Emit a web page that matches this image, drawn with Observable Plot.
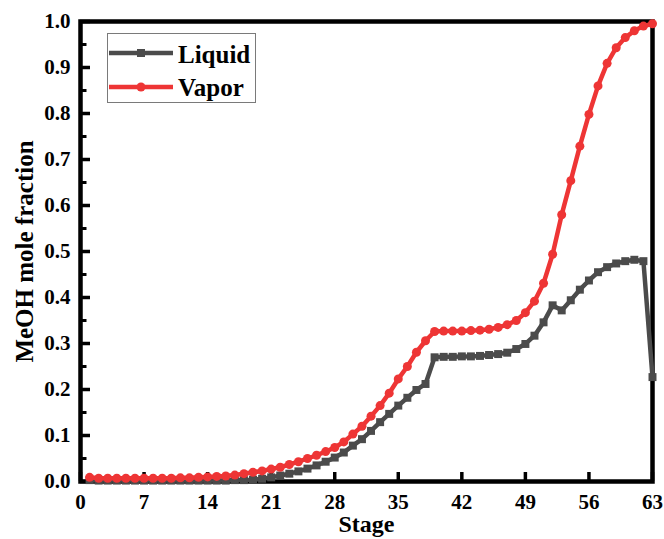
<!DOCTYPE html>
<html><head><meta charset="utf-8">
<script src="https://cdn.jsdelivr.net/npm/d3@7"></script>
<script src="https://cdn.jsdelivr.net/npm/@observablehq/plot@0.6"></script>
<style>
body{margin:0;background:#fff;}
#wrap{position:relative;width:664px;height:539px;overflow:hidden;}
#legend{position:absolute;left:107px;top:33px;width:149px;height:70px;border:1px solid #7a7a7a;background:#fff;box-sizing:border-box;}
#legend text{font-family:"Liberation Serif",serif;font-weight:bold;font-size:25px;fill:#000;}
</style></head><body><div id="wrap"></div>
<script>
const stages = d3.range(1, 64);
const liquid = [0.003,0.002,0.002,0.002,0.002,0.002,0.002,0.002,0.002,0.002,
  0.002,0.002,0.002,0.002,0.002,0.002,0.003,0.003,0.004,0.006,
  0.009,0.013,0.017,0.022,0.028,0.035,0.043,0.052,0.063,0.078,
  0.092,0.110,0.129,0.147,0.165,0.182,0.199,0.212,0.270,0.271,
  0.271,0.272,0.272,0.273,0.275,0.277,0.280,0.288,0.299,0.317,
  0.346,0.383,0.372,0.394,0.417,0.437,0.455,0.466,0.474,0.479,
  0.482,0.479,0.227];
const vapor = [0.009,0.007,0.007,0.007,0.007,0.007,0.007,0.007,0.007,0.007,
  0.008,0.008,0.009,0.010,0.011,0.012,0.014,0.017,0.020,0.023,
  0.027,0.031,0.037,0.043,0.050,0.057,0.065,0.074,0.086,0.103,
  0.120,0.142,0.165,0.192,0.223,0.250,0.281,0.306,0.326,0.327,
  0.327,0.327,0.328,0.329,0.331,0.335,0.341,0.350,0.367,0.392,
  0.431,0.494,0.580,0.654,0.729,0.798,0.860,0.909,0.943,0.965,
  0.980,0.990,0.995];
const xTicks = [0, 7, 14, 21, 28, 35, 42, 49, 56, 63];
const yTicks = [0, 0.1, 0.2, 0.3, 0.4, 0.5, 0.6, 0.7, 0.8, 0.9, 1.0];
const yMinorTicks = [0.05, 0.15, 0.25, 0.35, 0.45, 0.55, 0.65, 0.75, 0.85, 0.95];
const seriesNames = ["Liquid", "Vapor"];
const seriesColors = ["#4b4b4b", "#ee3535"];
const xTitle = "Stage";
const yTitle = "MeOH mole fraction";

const liqData = stages.map((s, i) => ({stage: s, value: liquid[i]}));
const vapData = stages.map((s, i) => ({stage: s, value: vapor[i]}));

const W = 664, H = 539, ML = 80, MR = 12, MT = 21, MB = 58;
const FW = W - ML - MR, FH = H - MT - MB;

const chart = Plot.plot({
  width: W, height: H,
  marginLeft: ML, marginRight: MR, marginTop: MT, marginBottom: MB,
  x: {domain: [0, 63]},
  y: {domain: [0, 1]},
  style: {fontFamily: "'Liberation Serif', serif", fontWeight: "bold", fontSize: "21px", color: "#000", background: "#fff"},
  marks: [
    Plot.tickY(yTicks, {y: d => d, stroke: "#000", strokeWidth: 3.5, insetRight: FW - 10}),
    Plot.tickY(yMinorTicks, {y: d => d, stroke: "#000", strokeWidth: 3, insetRight: FW - 6.5}),
    Plot.tickX(xTicks, {x: d => d, stroke: "#000", strokeWidth: 3.5, insetTop: FH - 9}),
    Plot.frame({stroke: "#000", strokeWidth: 4.5}),
    Plot.axisY(yTicks, {tickSize: 0, tickPadding: 10, tickFormat: d3.format(".1f"), fontSize: 21, fontWeight: "bold", label: null}),
    Plot.axisX(xTicks, {tickSize: 0, tickPadding: 13, fontSize: 21, fontWeight: "bold", label: null}),
    Plot.line(liqData, {x: "stage", y: "value", stroke: seriesColors[0], strokeWidth: 4.5}),
    Plot.dot(liqData, {x: "stage", y: "value", symbol: "square", r: 4.5, fill: seriesColors[0], stroke: null}),
    Plot.line(vapData, {x: "stage", y: "value", stroke: seriesColors[1], strokeWidth: 4.5}),
    Plot.dot(vapData, {x: "stage", y: "value", symbol: "circle", r: 4.5, fill: seriesColors[1], stroke: null}),
    Plot.text([xTitle], {frameAnchor: "bottom", dy: 33, lineAnchor: "top", textAnchor: "middle", fontSize: 24, fontWeight: "bold", fill: "#000"}),
    Plot.text([yTitle], {frameAnchor: "left", dx: -65, rotate: -90, lineAnchor: "top", textAnchor: "middle", fontSize: 25, fontWeight: "bold", fill: "#000"})
  ]
});
const wrap = document.getElementById("wrap");
wrap.appendChild(chart);

// legend
const legend = document.createElement("div");
legend.id = "legend";
const ns = "http://www.w3.org/2000/svg";
const svg = document.createElementNS(ns, "svg");
svg.setAttribute("width", 147); svg.setAttribute("height", 68);
const rows = [{y: 19, ty: 29}, {y: 53, ty: 62}];
seriesNames.forEach((name, i) => {
  const r = rows[i];
  const ln = document.createElementNS(ns, "line");
  ln.setAttribute("x1", 1); ln.setAttribute("x2", 65);
  ln.setAttribute("y1", r.y); ln.setAttribute("y2", r.y);
  ln.setAttribute("stroke", seriesColors[i]); ln.setAttribute("stroke-width", 4.5);
  svg.appendChild(ln);
  let m;
  if (i === 0) {
    m = document.createElementNS(ns, "rect");
    m.setAttribute("x", 33 - 4); m.setAttribute("y", r.y - 4);
    m.setAttribute("width", 8); m.setAttribute("height", 8);
  } else {
    m = document.createElementNS(ns, "circle");
    m.setAttribute("cx", 33); m.setAttribute("cy", r.y); m.setAttribute("r", 4.5);
  }
  m.setAttribute("fill", seriesColors[i]);
  svg.appendChild(m);
  const t = document.createElementNS(ns, "text");
  t.setAttribute("x", 70); t.setAttribute("y", r.ty);
  t.textContent = name;
  svg.appendChild(t);
});
legend.appendChild(svg);
wrap.appendChild(legend);
</script>
</body></html>
